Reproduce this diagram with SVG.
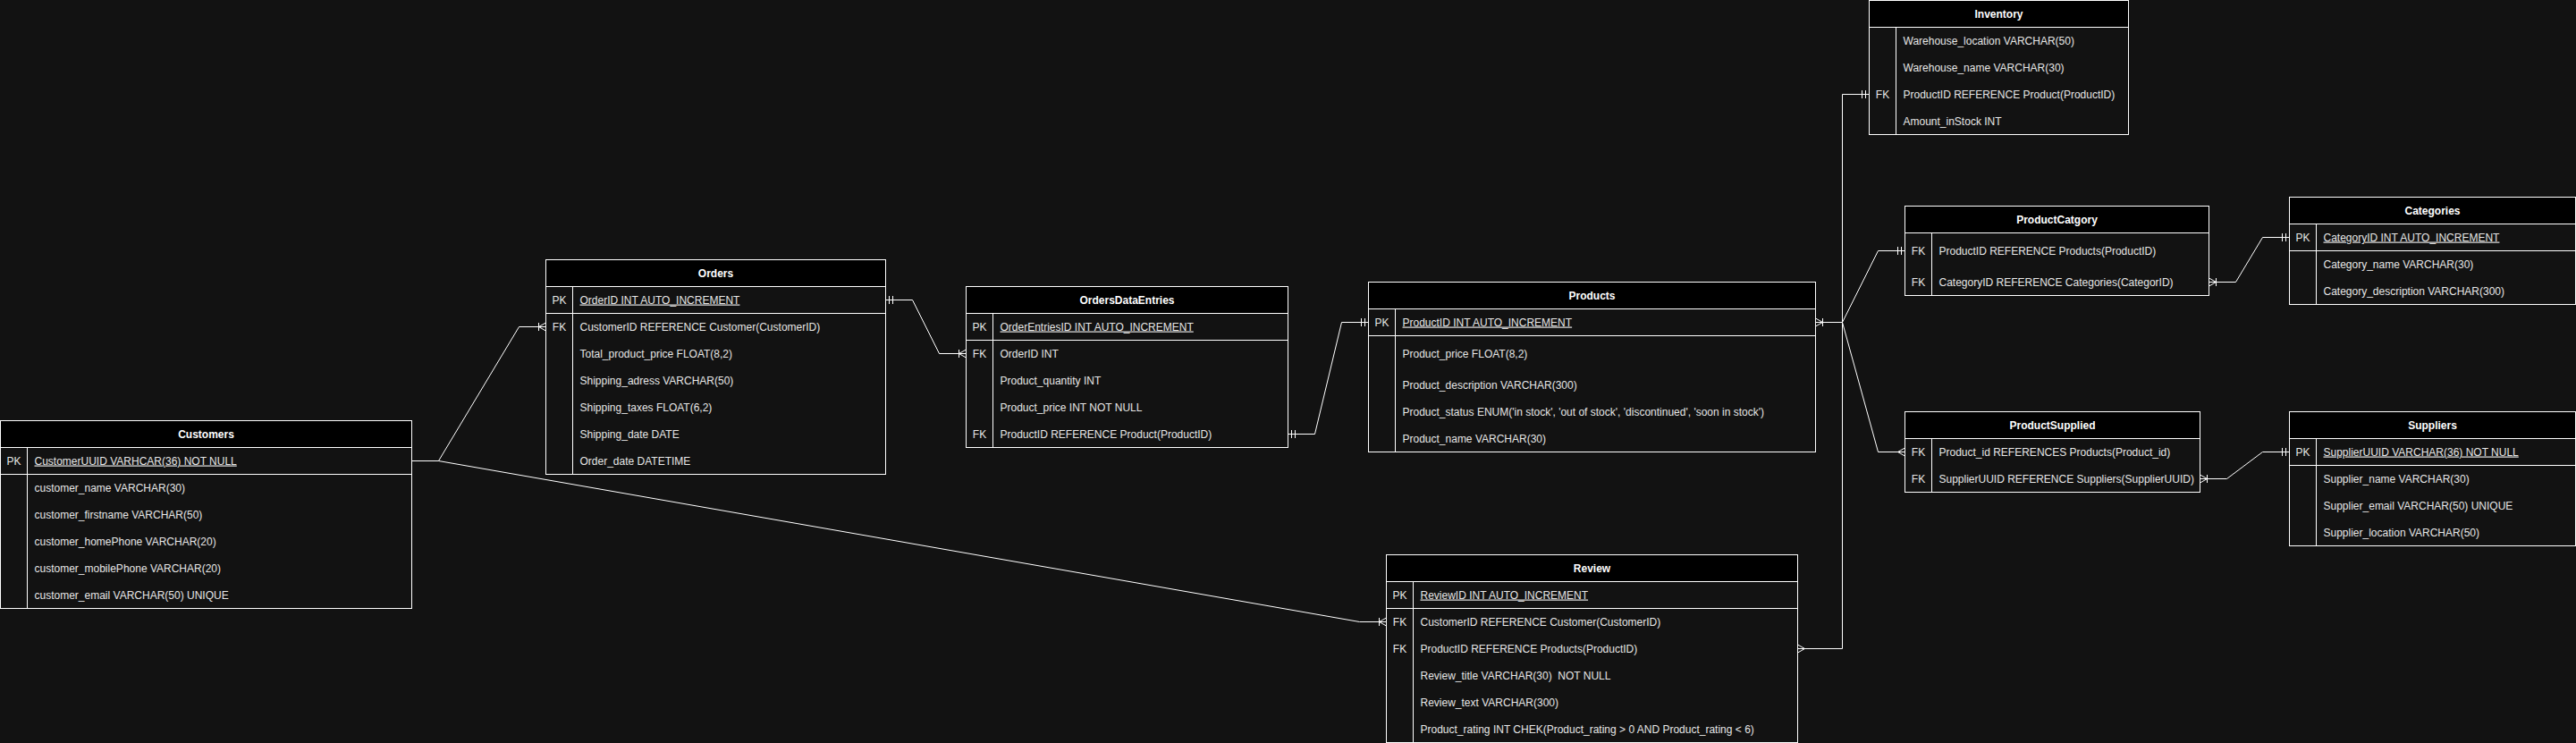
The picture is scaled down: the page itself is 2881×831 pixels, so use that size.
<svg xmlns="http://www.w3.org/2000/svg" width="2881" height="831" viewBox="0 0 2881 831">
<defs>
<style>
.tb{fill:#121212;stroke:#ffffff;stroke-width:1}
.hd{fill:#000000;stroke:#ffffff;stroke-width:1}
.ln{stroke:#ffffff;fill:none;stroke-width:1}
.t{font-family:"Liberation Sans",Arial,Helvetica,sans-serif;font-size:12px;fill:#e6e6e6}
.h{font-weight:bold;fill:#ffffff;text-anchor:middle}
.k{text-anchor:middle}
.u{text-decoration:underline}
.e{stroke:#ffffff;fill:none;stroke-width:1}
.m{stroke:#ffffff;fill:none;stroke-width:1}
</style>
<marker id="one" markerUnits="userSpaceOnUse" orient="auto-start-reverse" refX="0" refY="0" markerWidth="20" markerHeight="20" viewBox="-10 -10 20 20" overflow="visible"><path class="m" d="M-4,-4.5V4.5M-8,-4.5V4.5"/></marker>
<marker id="otm" markerUnits="userSpaceOnUse" orient="auto-start-reverse" refX="0" refY="0" markerWidth="20" markerHeight="20" viewBox="-10 -10 20 20" overflow="visible"><path class="m" d="M0,-4.5L-8,0L0,4.5M-8,-4.5V4.5"/></marker>
<marker id="many" markerUnits="userSpaceOnUse" orient="auto-start-reverse" refX="0" refY="0" markerWidth="20" markerHeight="20" viewBox="-10 -10 20 20" overflow="visible"><path class="m" d="M0,-4.5L-8,0L0,4.5"/></marker>
</defs>
<rect x="0" y="0" width="2881" height="831" fill="#121212"/>
<g transform="translate(0.5,0.5)">
<g id="connectors">
<path class="e" d="M460,515H490L580,365H610" marker-end="url(#otm)"/>
<path class="e" d="M460,515H490L1520,695H1550" marker-end="url(#otm)"/>
<path class="e" d="M990,335H1020L1050,395H1080" marker-start="url(#one)" marker-end="url(#otm)"/>
<path class="e" d="M1440,485H1470L1500,360H1530" marker-start="url(#one)" marker-end="url(#one)"/>
<path class="e" d="M2030,360H2060V105H2090" marker-start="url(#otm)" marker-end="url(#one)"/>
<path class="e" d="M2060,360L2100,280H2130" marker-end="url(#one)"/>
<path class="e" d="M2060,360L2100,505H2130" marker-end="url(#many)"/>
<path class="e" d="M2010,725H2060V360" marker-start="url(#many)"/>
<path class="e" d="M2470,315H2500L2530,265H2560" marker-start="url(#otm)" marker-end="url(#one)"/>
<path class="e" d="M2460,535H2490L2530,505H2560" marker-start="url(#otm)" marker-end="url(#one)"/>
</g>
<g id="customers">
<rect class="tb" x="0" y="470" width="460" height="210"/>
<rect class="hd" x="0" y="470" width="460" height="30"/>
<path class="ln" d="M30,500V680M0,530H460"/>
<text class="t h" x="230" y="489">Customers</text>
<text class="t k" x="15" y="519">PK</text>
<text class="t u" x="38" y="519">CustomerUUID VARHCAR(36) NOT NULL</text>
<text class="t" x="38" y="549">customer_name VARCHAR(30)</text>
<text class="t" x="38" y="579">customer_firstname VARCHAR(50)</text>
<text class="t" x="38" y="609">customer_homePhone VARCHAR(20)</text>
<text class="t" x="38" y="639">customer_mobilePhone VARCHAR(20)</text>
<text class="t" x="38" y="669">customer_email VARCHAR(50) UNIQUE</text>
</g>
<g id="orders">
<rect class="tb" x="610" y="290" width="380" height="240"/>
<rect class="hd" x="610" y="290" width="380" height="30"/>
<path class="ln" d="M640,320V530M610,350H990"/>
<text class="t h" x="800" y="309">Orders</text>
<text class="t k" x="625" y="339">PK</text>
<text class="t u" x="648" y="339">OrderID INT AUTO_INCREMENT</text>
<text class="t k" x="625" y="369">FK</text>
<text class="t" x="648" y="369">CustomerID REFERENCE Customer(CustomerID)</text>
<text class="t" x="648" y="399">Total_product_price FLOAT(8,2)</text>
<text class="t" x="648" y="429">Shipping_adress VARCHAR(50)</text>
<text class="t" x="648" y="459">Shipping_taxes FLOAT(6,2)</text>
<text class="t" x="648" y="489">Shipping_date DATE</text>
<text class="t" x="648" y="519">Order_date DATETIME</text>
</g>
<g id="ordersdataentries">
<rect class="tb" x="1080" y="320" width="360" height="180"/>
<rect class="hd" x="1080" y="320" width="360" height="30"/>
<path class="ln" d="M1110,350V500M1080,380H1440"/>
<text class="t h" x="1260" y="339">OrdersDataEntries</text>
<text class="t k" x="1095" y="369">PK</text>
<text class="t u" x="1118" y="369">OrderEntriesID INT AUTO_INCREMENT</text>
<text class="t k" x="1095" y="399">FK</text>
<text class="t" x="1118" y="399">OrderID INT</text>
<text class="t" x="1118" y="429">Product_quantity INT</text>
<text class="t" x="1118" y="459">Product_price INT NOT NULL</text>
<text class="t k" x="1095" y="489">FK</text>
<text class="t" x="1118" y="489">ProductID REFERENCE Product(ProductID)</text>
</g>
<g id="products">
<rect class="tb" x="1530" y="315" width="500" height="190"/>
<rect class="hd" x="1530" y="315" width="500" height="30"/>
<path class="ln" d="M1560,345V505M1530,375H2030"/>
<text class="t h" x="1780" y="334">Products</text>
<text class="t k" x="1545" y="364">PK</text>
<text class="t u" x="1568" y="364">ProductID INT AUTO_INCREMENT</text>
<text class="t" x="1568" y="399">Product_price FLOAT(8,2)</text>
<text class="t" x="1568" y="434">Product_description VARCHAR(300)</text>
<text class="t" x="1568" y="464">Product_status ENUM('in stock', 'out of stock', 'discontinued', 'soon in stock')</text>
<text class="t" x="1568" y="494">Product_name VARCHAR(30)</text>
</g>
<g id="review">
<rect class="tb" x="1550" y="620" width="460" height="210"/>
<rect class="hd" x="1550" y="620" width="460" height="30"/>
<path class="ln" d="M1580,650V830M1550,680H2010"/>
<text class="t h" x="1780" y="639">Review</text>
<text class="t k" x="1565" y="669">PK</text>
<text class="t u" x="1588" y="669">ReviewID INT AUTO_INCREMENT</text>
<text class="t k" x="1565" y="699">FK</text>
<text class="t" x="1588" y="699">CustomerID REFERENCE Customer(CustomerID)</text>
<text class="t k" x="1565" y="729">FK</text>
<text class="t" x="1588" y="729">ProductID REFERENCE Products(ProductID)</text>
<text class="t" x="1588" y="759" style="white-space:pre">Review_title VARCHAR(30)  NOT NULL</text>
<text class="t" x="1588" y="789">Review_text VARCHAR(300)</text>
<text class="t" x="1588" y="819">Product_rating INT CHEK(Product_rating &gt; 0 AND Product_rating &lt; 6)</text>
</g>
<g id="inventory">
<rect class="tb" x="2090" y="0" width="290" height="150"/>
<rect class="hd" x="2090" y="0" width="290" height="30"/>
<path class="ln" d="M2120,30V150"/>
<text class="t h" x="2235" y="19">Inventory</text>
<text class="t" x="2128" y="49">Warehouse_location VARCHAR(50)</text>
<text class="t" x="2128" y="79">Warehouse_name VARCHAR(30)</text>
<text class="t k" x="2105" y="109">FK</text>
<text class="t" x="2128" y="109">ProductID REFERENCE Product(ProductID)</text>
<text class="t" x="2128" y="139">Amount_inStock INT</text>
</g>
<g id="productcatgory">
<rect class="tb" x="2130" y="230" width="340" height="100"/>
<rect class="hd" x="2130" y="230" width="340" height="30"/>
<path class="ln" d="M2160,260V330"/>
<text class="t h" x="2300" y="249">ProductCatgory</text>
<text class="t k" x="2145" y="284">FK</text>
<text class="t" x="2168" y="284">ProductID REFERENCE Products(ProductID)</text>
<text class="t k" x="2145" y="319">FK</text>
<text class="t" x="2168" y="319">CategoryID REFERENCE Categories(CategorID)</text>
</g>
<g id="categories">
<rect class="tb" x="2560" y="220" width="320" height="120"/>
<rect class="hd" x="2560" y="220" width="320" height="30"/>
<path class="ln" d="M2590,250V340M2560,280H2880"/>
<text class="t h" x="2720" y="239">Categories</text>
<text class="t k" x="2575" y="269">PK</text>
<text class="t u" x="2598" y="269">CategoryID INT AUTO_INCREMENT</text>
<text class="t" x="2598" y="299">Category_name VARCHAR(30)</text>
<text class="t" x="2598" y="329">Category_description VARCHAR(300)</text>
</g>
<g id="productsupplied">
<rect class="tb" x="2130" y="460" width="330" height="90"/>
<rect class="hd" x="2130" y="460" width="330" height="30"/>
<path class="ln" d="M2160,490V550"/>
<text class="t h" x="2295" y="479">ProductSupplied</text>
<text class="t k" x="2145" y="509">FK</text>
<text class="t" x="2168" y="509">Product_id REFERENCES Products(Product_id)</text>
<text class="t k" x="2145" y="539">FK</text>
<text class="t" x="2168" y="539">SupplierUUID REFERENCE Suppliers(SupplierUUID)</text>
</g>
<g id="suppliers">
<rect class="tb" x="2560" y="460" width="320" height="150"/>
<rect class="hd" x="2560" y="460" width="320" height="30"/>
<path class="ln" d="M2590,490V610M2560,520H2880"/>
<text class="t h" x="2720" y="479">Suppliers</text>
<text class="t k" x="2575" y="509">PK</text>
<text class="t u" x="2598" y="509">SupplierUUID VARCHAR(36) NOT NULL</text>
<text class="t" x="2598" y="539">Supplier_name VARCHAR(30)</text>
<text class="t" x="2598" y="569">Supplier_email VARCHAR(50) UNIQUE</text>
<text class="t" x="2598" y="599">Supplier_location VARCHAR(50)</text>
</g>
</g>
</svg>
